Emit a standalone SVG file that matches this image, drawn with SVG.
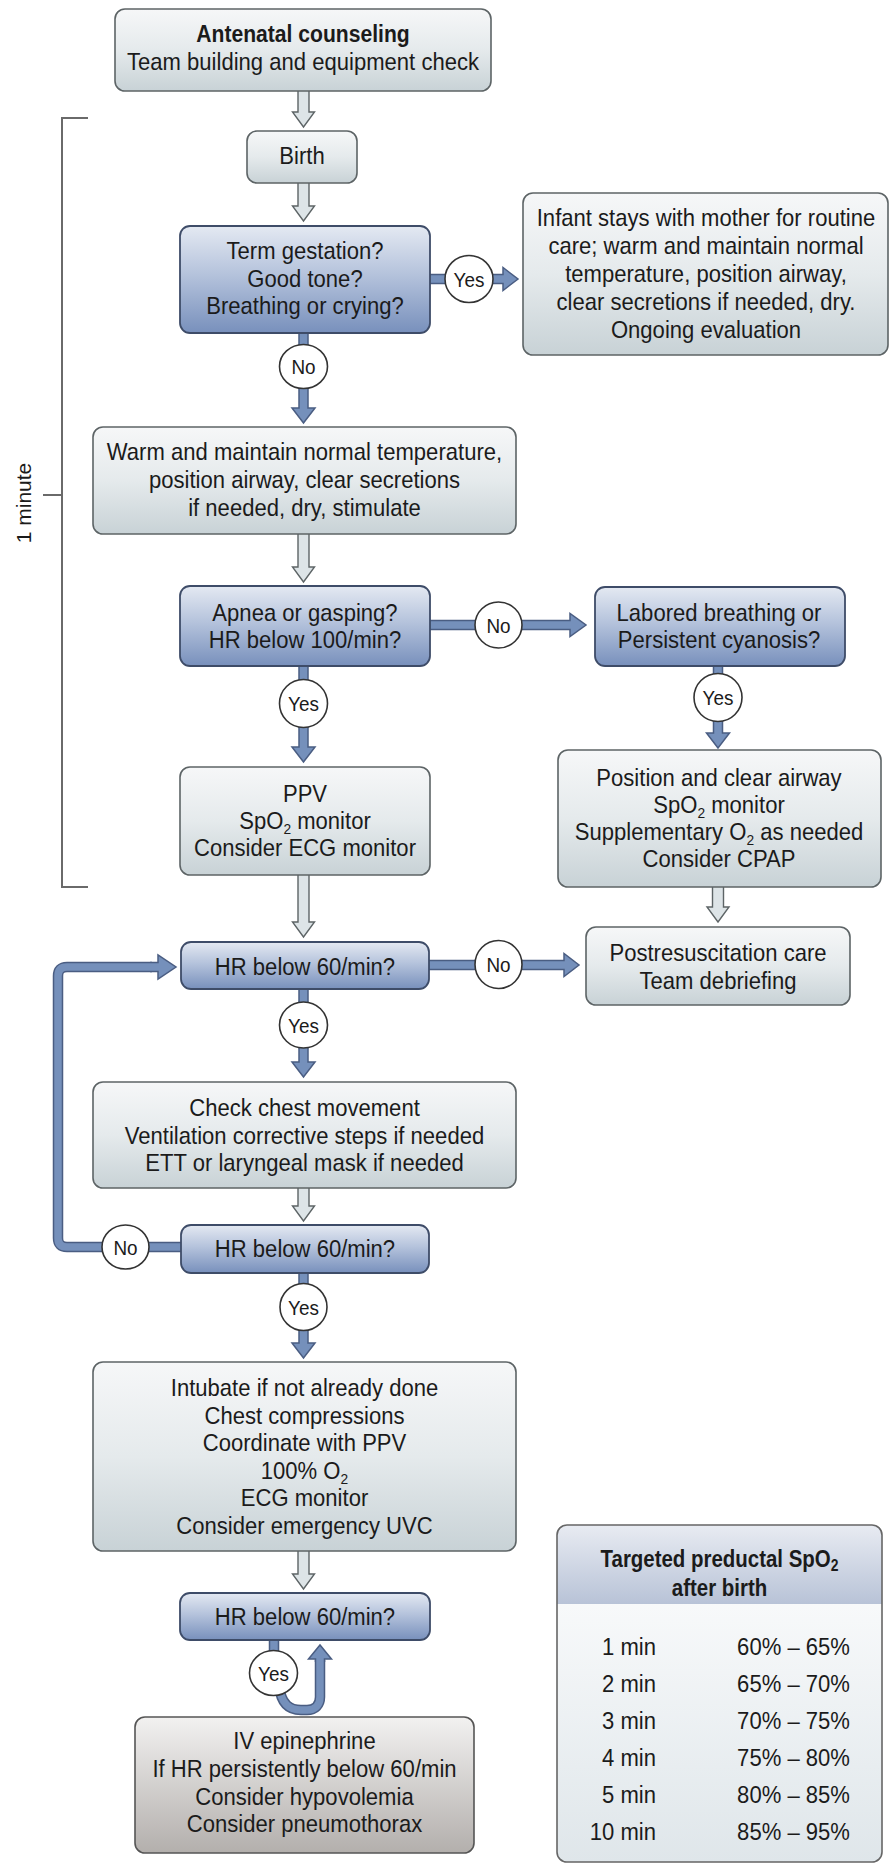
<svg xmlns="http://www.w3.org/2000/svg" width="890" height="1865" viewBox="0 0 890 1865">
<defs>
<linearGradient id="gg" x1="0" y1="0" x2="0" y2="1"><stop offset="0" stop-color="#f6f7f8"/><stop offset="0.5" stop-color="#e5eaec"/><stop offset="1" stop-color="#c8d2d6"/></linearGradient>
<linearGradient id="bg" x1="0" y1="0" x2="0" y2="1"><stop offset="0" stop-color="#e4e9f2"/><stop offset="0.45" stop-color="#b5c3dc"/><stop offset="1" stop-color="#7890bc"/></linearGradient>
<linearGradient id="ig" x1="0" y1="0" x2="0" y2="1"><stop offset="0" stop-color="#f2f1f0"/><stop offset="1" stop-color="#b3afac"/></linearGradient>
<linearGradient id="hg" x1="0" y1="0" x2="0" y2="1"><stop offset="0" stop-color="#e8ebf2"/><stop offset="1" stop-color="#b8c3d7"/></linearGradient>
<linearGradient id="tg" x1="0" y1="0" x2="0" y2="1"><stop offset="0" stop-color="#ffffff"/><stop offset="1" stop-color="#dfe6ea"/></linearGradient>
</defs>
<style>
.t{font-family:"Liberation Sans",Arial,sans-serif;font-size:24px;fill:#1b1b1b;text-anchor:middle}
.b{font-weight:bold}
.e{text-anchor:end}
.gb{fill:url(#gg);stroke:#5d6466;stroke-width:1.6}
.bb{fill:url(#bg);stroke:#3e4c68;stroke-width:1.8}
.ha{fill:#dde4e7;stroke:#5d6466;stroke-width:1.4}
.ba{fill:#7590bb;stroke:#4a5d82;stroke-width:1.5}
.lo{fill:none;stroke:#4a5d82;stroke-width:10.5}
.li{fill:none;stroke:#7590bb;stroke-width:7.5}
.c{fill:#fff;stroke:#333;stroke-width:1.6}
.ct{font-size:21px}
.br{fill:none;stroke:#6a6a6a;stroke-width:2}
</style>
<rect width="890" height="1865" fill="#fff"/>

<g id="bracket">
<polyline class="br" points="88,118 62,118 62,887 88,887"/>
<line class="br" x1="43" y1="495" x2="62" y2="495"/>
<text class="t" style="font-size:21px" transform="translate(31 503) rotate(-90)">1 minute</text>
</g>

<g id="connectors">
<path class="ha" d="M298 89H309V112H314.5L303.5 127L292.5 112H298Z"/>
<path class="ha" d="M298 181H309V206H314.5L303.5 221L292.5 206H298Z"/>
<path class="ha" d="M298 532H309V567H314.5L303.5 582L292.5 567H298Z"/>
<path class="ha" d="M298 873H309V922H314.5L303.5 937L292.5 922H298Z"/>
<path class="ha" d="M712.5 885H723.5V907H729L718 922L707 907H712.5Z"/>
<path class="ha" d="M298 1186H309V1206H314.5L303.5 1221L292.5 1206H298Z"/>
<path class="ha" d="M298 1549H309V1574H314.5L303.5 1589L292.5 1574H298Z"/>
<path class="ba" d="M428 274.5H503V267.5L518 279L503 290.5V283.5H428Z"/>
<path class="ba" d="M299 330H308V408H315L303.5 423L292 408H299Z"/>
<path class="ba" d="M428 620.5H570V613.5L586 625L570 636.5V629.5H428Z"/>
<path class="ba" d="M713.5 664H722.5V733H729.5L718 748L706.5 733H713.5Z"/>
<path class="ba" d="M299 664H308V747H315L303.5 762L292 747H299Z"/>
<path class="ba" d="M427 960.5H564V953.5L579 965L564 976.5V969.5H427Z"/>
<path class="ba" d="M299 987H308V1062H315L303.5 1077L292 1062H299Z"/>
<path class="ba" d="M299 1271H308V1343H315L303.5 1358L292 1343H299Z"/>
<path class="lo" d="M183 1247H67Q58 1247 58 1238V976Q58 967 67 967H152"/>
<path class="li" d="M183 1247H67Q58 1247 58 1238V976Q58 967 67 967H152"/>
<path class="ba" d="M150 962.5H158V955L176 967L158 979V971.5H150"/>
<rect class="ba" x="269.5" y="1636" width="9" height="24"/>
<path class="lo" d="M279 1685C281 1705 290 1710 301 1710L307 1710C315 1710 320 1705 320 1697L320 1660"/>
<path class="li" d="M279 1685C281 1705 290 1710 301 1710L307 1710C315 1710 320 1705 320 1697L320 1660"/>
<path class="ba" d="M315.5 1662V1659H308.5L320 1645L331.5 1659H324.5V1662"/>
</g>

<g id="antenatal">
<rect class="gb" x="115" y="9" width="376" height="82" rx="10"/>
<text class="t b" style="font-size:24px" transform="translate(303 42) scale(.88 1)">Antenatal counseling</text>
<text class="t" transform="translate(303 70) scale(.92 1)">Team building and equipment check</text>
</g>

<g id="birth">
<rect class="gb" x="247" y="131" width="110" height="52" rx="10"/>
<text class="t" transform="translate(302 164) scale(.92 1)">Birth</text>
</g>

<g id="term">
<rect class="bb" x="180" y="226" width="250" height="107" rx="10"/>
<text class="t" transform="translate(305 259) scale(.92 1)">Term gestation?</text>
<text class="t" transform="translate(305 286.5) scale(.92 1)">Good tone?</text>
<text class="t" transform="translate(305 314) scale(.92 1)">Breathing or crying?</text>
</g>

<g id="infant">
<rect class="gb" x="523" y="193" width="365" height="162" rx="10"/>
<text class="t" transform="translate(706 225.5) scale(.92 1)">Infant stays with mother for routine</text>
<text class="t" transform="translate(706 253.5) scale(.92 1)">care; warm and maintain normal</text>
<text class="t" transform="translate(706 281.5) scale(.92 1)">temperature, position airway,</text>
<text class="t" transform="translate(706 309.5) scale(.92 1)">clear secretions if needed, dry.</text>
<text class="t" transform="translate(706 337.5) scale(.92 1)">Ongoing evaluation</text>
</g>

<g id="warm">
<rect class="gb" x="93" y="427" width="423" height="107" rx="10"/>
<text class="t" transform="translate(304.5 460) scale(.92 1)">Warm and maintain normal temperature,</text>
<text class="t" transform="translate(304.5 488) scale(.92 1)">position airway, clear secretions</text>
<text class="t" transform="translate(304.5 516) scale(.92 1)">if needed, dry, stimulate</text>
</g>

<g id="apnea">
<rect class="bb" x="180" y="586" width="250" height="80" rx="10"/>
<text class="t" transform="translate(305 620.5) scale(.92 1)">Apnea or gasping?</text>
<text class="t" transform="translate(305 647.5) scale(.92 1)">HR below 100/min?</text>
</g>

<g id="labored">
<rect class="bb" x="595" y="587" width="250" height="79" rx="10"/>
<text class="t" transform="translate(719 620.5) scale(.92 1)">Labored breathing or</text>
<text class="t" transform="translate(719 647.5) scale(.92 1)">Persistent cyanosis?</text>
</g>

<g id="position">
<rect class="gb" x="558" y="750" width="323" height="137" rx="10"/>
<text class="t" transform="translate(719 786) scale(.92 1)">Position and clear airway</text>
<text class="t" transform="translate(719 813) scale(.92 1)">SpO<tspan font-size="15" dy="5">2</tspan><tspan dy="-5"> monitor</tspan></text>
<text class="t" transform="translate(719 840) scale(.92 1)">Supplementary O<tspan font-size="15" dy="5">2</tspan><tspan dy="-5"> as needed</tspan></text>
<text class="t" transform="translate(719 867) scale(.92 1)">Consider CPAP</text>
</g>

<g id="ppv">
<rect class="gb" x="180" y="767" width="250" height="108" rx="10"/>
<text class="t" transform="translate(305 801.5) scale(.92 1)">PPV</text>
<text class="t" transform="translate(305 828.5) scale(.92 1)">SpO<tspan font-size="15" dy="5">2</tspan><tspan dy="-5"> monitor</tspan></text>
<text class="t" transform="translate(305 855.5) scale(.92 1)">Consider ECG monitor</text>
</g>

<g id="hr1">
<rect class="bb" x="181" y="942" width="248" height="47" rx="10"/>
<text class="t" transform="translate(305 975) scale(.92 1)">HR below 60/min?</text>
</g>

<g id="postresus">
<rect class="gb" x="586" y="927" width="264" height="78" rx="10"/>
<text class="t" transform="translate(718 960.5) scale(.92 1)">Postresuscitation care</text>
<text class="t" transform="translate(718 988.5) scale(.92 1)">Team debriefing</text>
</g>

<g id="check">
<rect class="gb" x="93" y="1082" width="423" height="106" rx="10"/>
<text class="t" transform="translate(304.5 1115.5) scale(.92 1)">Check chest movement</text>
<text class="t" transform="translate(304.5 1143.5) scale(.92 1)">Ventilation corrective steps if needed</text>
<text class="t" transform="translate(304.5 1171) scale(.92 1)">ETT or laryngeal mask if needed</text>
</g>

<g id="hr2">
<rect class="bb" x="181" y="1225" width="248" height="48" rx="10"/>
<text class="t" transform="translate(305 1257) scale(.92 1)">HR below 60/min?</text>
</g>

<g id="intubate">
<rect class="gb" x="93" y="1362" width="423" height="189" rx="10"/>
<text class="t" transform="translate(304.5 1396) scale(.92 1)">Intubate if not already done</text>
<text class="t" transform="translate(304.5 1423.5) scale(.92 1)">Chest compressions</text>
<text class="t" transform="translate(304.5 1451) scale(.92 1)">Coordinate with PPV</text>
<text class="t" transform="translate(304.5 1478.5) scale(.92 1)">100% O<tspan font-size="15" dy="5">2</tspan></text>
<text class="t" transform="translate(304.5 1506) scale(.92 1)">ECG monitor</text>
<text class="t" transform="translate(304.5 1534) scale(.92 1)">Consider emergency UVC</text>
</g>

<g id="hr3">
<rect class="bb" x="180" y="1593" width="250" height="47" rx="10"/>
<text class="t" transform="translate(305 1625) scale(.92 1)">HR below 60/min?</text>
</g>

<g id="epinephrine">
<rect x="135" y="1717" width="339" height="136" rx="10" fill="url(#ig)" stroke="#555" stroke-width="1.6"/>
<text class="t" transform="translate(304.5 1749) scale(.92 1)">IV epinephrine</text>
<text class="t" transform="translate(304.5 1777) scale(.92 1)">If HR persistently below 60/min</text>
<text class="t" transform="translate(304.5 1804.5) scale(.92 1)">Consider hypovolemia</text>
<text class="t" transform="translate(304.5 1832) scale(.92 1)">Consider pneumothorax</text>
</g>

<g id="spo2-table">
<rect x="557" y="1525" width="325" height="337" rx="10" fill="url(#tg)"/>
<path d="M557 1604V1535Q557 1525 567 1525H872Q882 1525 882 1535V1604Z" fill="url(#hg)"/>
<rect x="557" y="1525" width="325" height="337" rx="10" fill="none" stroke="#666" stroke-width="1.6"/>
<text class="t b" style="font-size:23.5px" transform="translate(719.5 1567) scale(.87 1)">Targeted preductal SpO<tspan font-size="16" dy="4">2</tspan></text>
<text class="t b" style="font-size:23.5px" transform="translate(719.5 1596) scale(.87 1)">after birth</text>
<text class="t e" transform="translate(656 1655) scale(.92 1)">1 min</text>
<text class="t e" transform="translate(850 1655) scale(.92 1)">60% – 65%</text>
<text class="t e" transform="translate(656 1692) scale(.92 1)">2 min</text>
<text class="t e" transform="translate(850 1692) scale(.92 1)">65% – 70%</text>
<text class="t e" transform="translate(656 1729) scale(.92 1)">3 min</text>
<text class="t e" transform="translate(850 1729) scale(.92 1)">70% – 75%</text>
<text class="t e" transform="translate(656 1766) scale(.92 1)">4 min</text>
<text class="t e" transform="translate(850 1766) scale(.92 1)">75% – 80%</text>
<text class="t e" transform="translate(656 1803) scale(.92 1)">5 min</text>
<text class="t e" transform="translate(850 1803) scale(.92 1)">80% – 85%</text>
<text class="t e" transform="translate(656 1840) scale(.92 1)">10 min</text>
<text class="t e" transform="translate(850 1840) scale(.92 1)">85% – 95%</text>
</g>

<g id="connector-labels">
<ellipse class="c" cx="469" cy="279" rx="24" ry="23.5"/>
<text class="t ct" transform="translate(469 286.5) scale(.9 1)">Yes</text>
<ellipse class="c" cx="303.5" cy="366.5" rx="24" ry="22"/>
<text class="t ct" transform="translate(303.5 374) scale(.9 1)">No</text>
<ellipse class="c" cx="498.5" cy="625" rx="23.5" ry="23"/>
<text class="t ct" transform="translate(498.5 632.5) scale(.9 1)">No</text>
<ellipse class="c" cx="718" cy="697.5" rx="24" ry="24"/>
<text class="t ct" transform="translate(718 705) scale(.9 1)">Yes</text>
<ellipse class="c" cx="303.5" cy="703.5" rx="24" ry="24"/>
<text class="t ct" transform="translate(303.5 711) scale(.9 1)">Yes</text>
<ellipse class="c" cx="498.5" cy="964.5" rx="23.5" ry="24"/>
<text class="t ct" transform="translate(498.5 972) scale(.9 1)">No</text>
<ellipse class="c" cx="303.5" cy="1025" rx="24" ry="23"/>
<text class="t ct" transform="translate(303.5 1032.5) scale(.9 1)">Yes</text>
<ellipse class="c" cx="125.5" cy="1247" rx="23.5" ry="22"/>
<text class="t ct" transform="translate(125.5 1254.5) scale(.9 1)">No</text>
<ellipse class="c" cx="303.5" cy="1307" rx="23.5" ry="23.5"/>
<text class="t ct" transform="translate(303.5 1314.5) scale(.9 1)">Yes</text>
<ellipse class="c" cx="273.5" cy="1673" rx="24" ry="22.5"/>
<text class="t ct" transform="translate(273.5 1680.5) scale(.9 1)">Yes</text>
</g>
</svg>
